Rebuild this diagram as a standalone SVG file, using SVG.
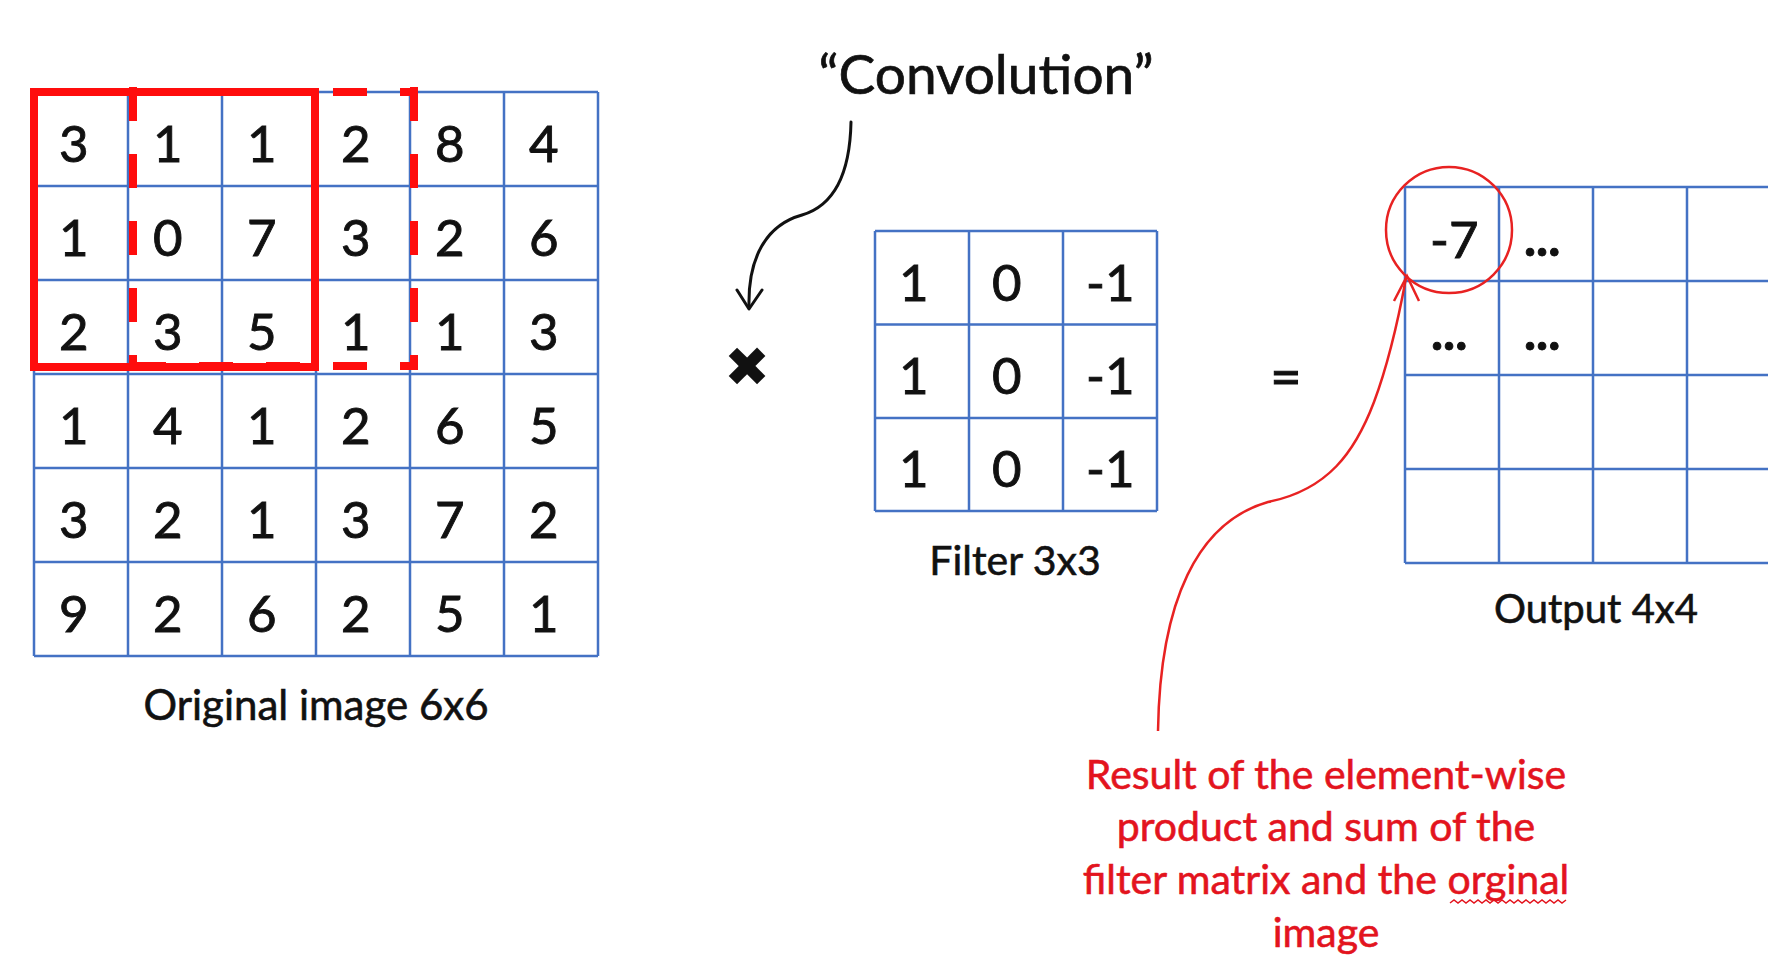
<svg xmlns="http://www.w3.org/2000/svg" width="1768" height="963" viewBox="0 0 1768 963">
<style>
.grid{stroke:#4472C4;stroke-width:2.5;fill:none}
.num{font-family:Lato,"Open Sans","Liberation Sans",sans-serif;font-size:51px;fill:#111;stroke:#111;stroke-width:0.9}
.lbl{font-family:Lato,"Open Sans","Liberation Sans",sans-serif;fill:#111;stroke:#111;stroke-width:0.6;text-anchor:middle}
.note{font-family:Lato,"Open Sans","Liberation Sans",sans-serif;font-size:41px;fill:#E3141E;stroke:#E3141E;stroke-width:0.6;text-anchor:middle}
.red{stroke:#FF0D0D;stroke-width:8;fill:none}
.dash{stroke:#FF0D0D;stroke-width:8;fill:none;stroke-dasharray:34 33}
.rc{stroke:#E82222;stroke-width:2.5;fill:none}
.bk{stroke:#111;stroke-width:3;fill:none;stroke-linecap:round;stroke-linejoin:round}
</style>
<rect width="1768" height="963" fill="#ffffff"/>

<g id="original-image">
<path class="grid" d="M34 92V656M128 92V656M222 92V656M316 92V656M410 92V656M504 92V656M598 92V656M34 92H598M34 186H598M34 280H598M34 374H598M34 468H598M34 562H598M34 656H598"/>
<g class="num">
<text x="59" y="162">3</text><text x="153" y="162">1</text><text x="247" y="162">1</text><text x="341" y="162">2</text><text x="435" y="162">8</text><text x="529" y="162">4</text>
<text x="59" y="256">1</text><text x="153" y="256">0</text><text x="247" y="256">7</text><text x="341" y="256">3</text><text x="435" y="256">2</text><text x="529" y="256">6</text>
<text x="59" y="350">2</text><text x="153" y="350">3</text><text x="247" y="350">5</text><text x="341" y="350">1</text><text x="435" y="350">1</text><text x="529" y="350">3</text>
<text x="59" y="444">1</text><text x="153" y="444">4</text><text x="247" y="444">1</text><text x="341" y="444">2</text><text x="435" y="444">6</text><text x="529" y="444">5</text>
<text x="59" y="538">3</text><text x="153" y="538">2</text><text x="247" y="538">1</text><text x="341" y="538">3</text><text x="435" y="538">7</text><text x="529" y="538">2</text>
<text x="59" y="632">9</text><text x="153" y="632">2</text><text x="247" y="632">6</text><text x="341" y="632">2</text><text x="435" y="632">5</text><text x="529" y="632">1</text>
</g>
<path class="dash" d="M133 87V369M414 87V369"/>
<path class="dash" d="M132 92H418M132 366H418"/>
<rect class="red" x="34" y="92" width="281" height="275"/>
<text class="lbl" x="316" y="720" font-size="42">Original image 6x6</text>
</g>

<g id="operators">
<text x="747" y="386" font-family="DejaVu Sans,sans-serif" font-size="55" fill="#111" text-anchor="middle">✖</text>
<text x="1286" y="396" font-family="Lato,'Open Sans',sans-serif" font-size="54" fill="#111" stroke="#111" stroke-width="1" text-anchor="middle">=</text>
</g>

<g id="convolution-label">
<text x="986" y="94" font-family="Lato,'Open Sans','Liberation Sans',sans-serif" font-size="55" fill="#111" stroke="#111" stroke-width="0.7" text-anchor="middle">“Convolution”</text>
</g>

<g id="filter">
<path class="grid" d="M875 231V511M969 231V511M1063 231V511M1157 231V511M875 231H1157M875 324.5H1157M875 418H1157M875 511H1157"/>
<g class="num">
<text x="899" y="301">1</text><text x="992" y="301">0</text><text x="1086" y="301">-1</text>
<text x="899" y="394">1</text><text x="992" y="394">0</text><text x="1086" y="394">-1</text>
<text x="899" y="487">1</text><text x="992" y="487">0</text><text x="1086" y="487">-1</text>
</g>
<text class="lbl" x="1015" y="575" font-size="41">Filter 3x3</text>
</g>

<g id="output">
<path class="grid" d="M1405 187V563M1499 187V563M1593 187V563M1687 187V563M1405 187H1780M1405 281H1780M1405 375H1780M1405 469H1780M1405 563H1780"/>
<g class="num">
<text x="1430" y="258">-7</text>
<text x="1524" y="256" font-weight="bold">...</text>
<text x="1431" y="350" font-weight="bold">...</text><text x="1524" y="350" font-weight="bold">...</text>
</g>
<circle cx="1449" cy="230" r="63" class="rc"/>
<text class="lbl" x="1596" y="623" font-size="40">Output 4x4</text>
</g>

<g id="note">
<text class="note" x="1326" y="789">Result of the element-wise</text>
<text class="note" x="1326" y="841">product and sum of the</text>
<text class="note" x="1326" y="894">filter matrix and the orginal</text>
<text class="note" x="1326" y="947">image</text>
<path d="M1450 903l4 -3l4 3l4 -3l4 3l4 -3l4 3l4 -3l4 3l4 -3l4 3l4 -3l4 3l4 -3l4 3l4 -3l4 3l4 -3l4 3l4 -3l4 3l4 -3l4 3l4 -3l4 3l4 -3l4 3l4 -3l4 3l4 -3" stroke="#E3141E" stroke-width="1.5" fill="none"/>
</g>

<g id="connectors">
<path class="bk" d="M851 122C850 172 836 205 802 215C766 225 748 258 749 306"/>
<path class="bk" d="M737 290L749 309L762 290"/>
<path class="rc" d="M1158 731C1160 600 1198 522 1268 502C1328 490 1355 452 1374 402C1389 362 1399 316 1406 278"/>
<path class="rc" d="M1394 301L1407 276L1419 301" stroke-width="3"/>
</g>
</svg>
